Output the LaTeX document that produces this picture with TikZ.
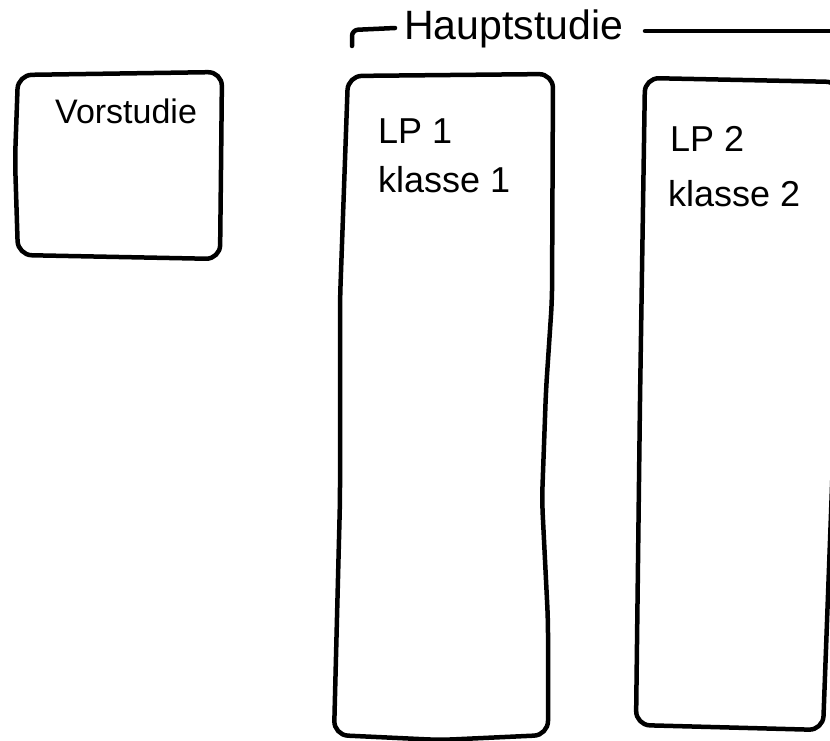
\documentclass[tikz,border=0pt]{standalone}
\usepackage{fontspec}
\setmainfont{Liberation Sans}
\begin{document}
\begin{tikzpicture}[x=1pt,y=-1pt,
  stroke/.style={line width=4.5pt,line join=round,line cap=round,rounded corners=14pt},
  hand/.style={font=\fontsize{36}{40}\selectfont,inner sep=0pt},
  handsmall/.style={font=\fontsize{34}{40}\selectfont,inner sep=0pt},
  handbig/.style={font=\fontsize{41}{44}\selectfont,inner sep=0pt}]
\useasboundingbox (0,0) rectangle (830,741);
\clip (0,0) rectangle (830,741);
% Vorstudie box
\draw[stroke] (18,75) -- (222,72) -- (221,170) -- (220,259) -- (18,255) -- (15,160) -- cycle;
\node[handsmall,anchor=base west] (vor) at (55,124) {Vorstudie};
% LP1 box
\draw[stroke] (348,76) -- (553,74) -- (552,300) -- (546,390) -- (542,500) -- (548,620) -- (548,735)
  -- (440,740) -- (334,735) -- (340,500) -- (340,300) -- cycle;
\node[hand,anchor=base west] (lp1) at (378,143) {LP 1};
\node[hand,anchor=base west] (kl1) at (378,192) {klasse 1};
% LP2 box
\draw[stroke] (645,78) -- (840,82) -- (833,460) -- (823,730) -- (636,725) -- (640,400) -- cycle;
\node[hand,anchor=base west] (lp2) at (670,152) {LP 2};
\node[hand,anchor=base west] (kl2) at (668,206) {klasse 2};
% Hauptstudie bracket
\node[handbig,anchor=base west] (haupt) at (404,40) {Hauptstudie};
\coordinate (bl) at (352,46);
\coordinate (bc) at (352,30);
\coordinate (bt) at (395,28);
\coordinate (rs) at (645,31);
\coordinate (br) at (832,31);
\draw[line width=4.5pt,line cap=round,line join=round,rounded corners=6pt] (bl) -- (bc) -- (bt);
\draw[line width=4.5pt,line cap=round] (rs) -- (br);
\end{tikzpicture}
\end{document}
